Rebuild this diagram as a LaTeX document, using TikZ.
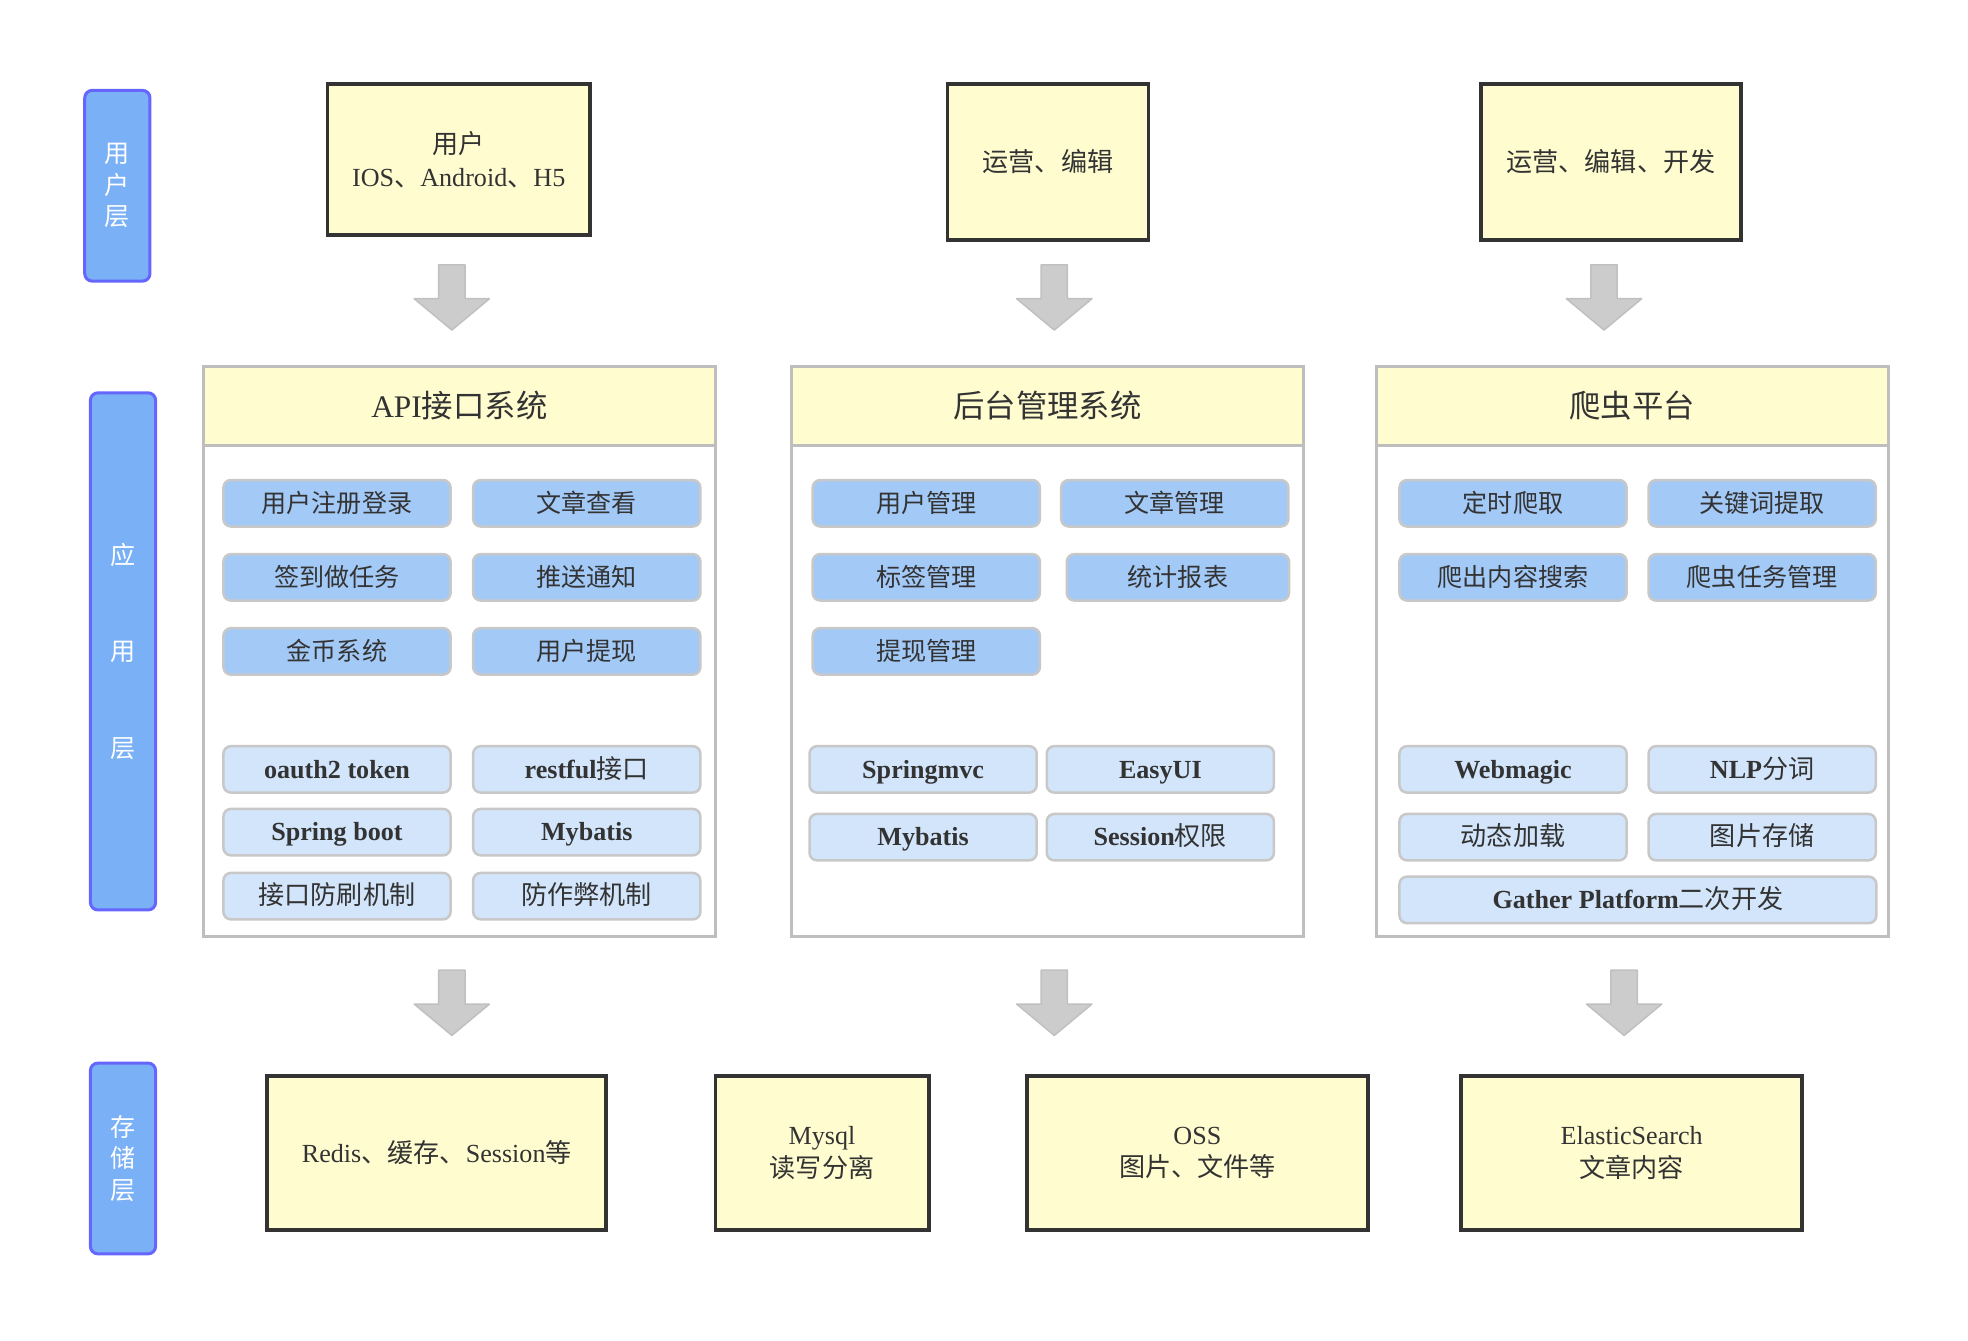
\documentclass[tikz,border=0pt]{standalone}
\usepackage{fontspec}
\setmainfont{Liberation Serif}
\newfontfamily\cjk{Noto Sans CJK SC}
\newcommand\zh[1]{{\cjk\mdseries #1}}
\usetikzlibrary{positioning}
\definecolor{boxfill}{RGB}{255,253,208}
\definecolor{boxborder}{RGB}{51,51,51}
\definecolor{panelborder}{RGB}{190,190,190}
\definecolor{funcdark}{RGB}{163,201,247}
\definecolor{funclight}{RGB}{210,229,251}
\definecolor{btnborder}{RGB}{200,200,200}
\definecolor{layerfill}{RGB}{122,176,245}
\definecolor{layerborder}{RGB}{102,102,255}
\definecolor{arrowgray}{RGB}{204,204,204}
\definecolor{arrowedge}{RGB}{192,192,192}
\definecolor{txt}{RGB}{51,51,51}
\tikzset{
  layer/.style={draw=layerborder, fill=layerfill, line width=1.2pt, rounded corners=3pt,
    text=white, align=center, inner sep=0pt, minimum width=26pt,
    font=\cjk\fontsize{10}{12.5}\selectfont},
  client/.style={draw=boxborder, fill=boxfill, line width=1.5pt, align=center,
    inner sep=0pt, text=txt, font=\fontsize{10.4}{13}\selectfont},
  panel/.style={draw=panelborder, fill=white, line width=1.2pt, inner sep=0pt,
    minimum width=204pt, minimum height=227pt},
  header/.style={draw=panelborder, fill=boxfill, line width=1.2pt, inner sep=0pt,
    minimum width=204pt, minimum height=31.5pt, text=txt, font=\fontsize{12.5}{15}\selectfont},
  func/.style={draw=btnborder, fill=funcdark, line width=1pt, rounded corners=3pt,
    inner sep=0pt, minimum width=90.5pt, minimum height=18.5pt, text=txt,
    text height=8.5pt, text depth=1.5pt, font=\cjk\fontsize{10}{12}\selectfont},
  tech/.style={func, fill=funclight, font=\bfseries\fontsize{10.4}{12}\selectfont},
  grayarrow/.pic={
    \draw[fill=arrowgray, draw=arrowedge, line width=0.6pt, line join=round]
      (-10.5,0) -- (10.5,0) -- (10.5,27) -- (30,27) -- (0,52) -- (-30,27) -- (-10.5,27) -- cycle;
  }
}
\begin{document}
\begin{tikzpicture}[x=0.5pt, y=-0.5pt]
    \useasboundingbox (0,0) rectangle (1568,1068);

    % layers
    \node[layer, minimum height=76pt] (L1) at (93.5,148) {用\\户\\层};
    \node[layer, minimum height=206pt, font=\cjk\fontsize{10}{38.5}\selectfont] (L2) at (98,519) {应\\用\\层};
    \node[layer, minimum height=76pt] (L3) at (98,923) {存\\储\\层};

    % clients
    \node[client, minimum width=104.5pt, minimum height=60pt] (U1) at (365.5,127) {\zh{用户}\\IOS\zh{、}Android\zh{、}H5};
    \node[client, minimum width=80pt, minimum height=62pt] (U2) at (835,129) {\zh{运营、编辑}};
    \node[client, minimum width=103.5pt, minimum height=62pt] (U3) at (1283.5,129) {\zh{运营、编辑、开发}};

    \pic at (360,211) {grayarrow};
    \pic at (840,211) {grayarrow};
    \pic at (1278,211) {grayarrow};

    % application panels
    \node[panel] (P1) at (366,519) {};
    \node[header, anchor=north] (H1) at (P1.north) {API\zh{接口系统}};
    \node[panel] (P2) at (834.5,519) {};
    \node[header, anchor=north] (H2) at (P2.north) {\zh{后台管理系统}};
    \node[panel] (P3) at (1300.5,519) {};
    \node[header, anchor=north] (H3) at (P3.north) {\zh{爬虫平台}};

    % API
    \node[func] (A11) at (268.5,401) {用户注册登录};
    \node[func] (A12) at (467.5,401) {文章查看};
    \node[func] (A21) at (268.5,460) {签到做任务};
    \node[func] (A22) at (467.5,460) {推送通知};
    \node[func] (A31) at (268.5,519) {金币系统};
    \node[func] (A32) at (467.5,519) {用户提现};
    \node[tech] (T11) at (268.5,613) {oauth2 token};
    \node[tech] (T12) at (467.5,613) {restful\zh{接口}};
    \node[tech] (T21) at (268.5,663) {Spring boot};
    \node[tech] (T22) at (467.5,663) {Mybatis};
    \node[tech] (T31) at (268.5,714) {\zh{接口防刷机制}};
    \node[tech] (T32) at (467.5,714) {\zh{防作弊机制}};

    % admin
    \node[func] (B11) at (738,401) {用户管理};
    \node[func] (B12) at (936,401) {文章管理};
    \node[func] (B21) at (738,460) {标签管理};
    \node[func, minimum width=88.5pt] (B22) at (938.5,460) {统计报表};
    \node[func] (B31) at (738,519) {提现管理};
    \node[tech] (S11) at (735.5,613) {Springmvc};
    \node[tech] (S12) at (924.5,613) {EasyUI};
    \node[tech] (S21) at (735.5,667) {Mybatis};
    \node[tech] (S22) at (924.5,667) {Session\zh{权限}};

    % crawler
    \node[func] (C11) at (1205.5,401) {定时爬取};
    \node[func] (C12) at (1404,401) {关键词提取};
    \node[func] (C21) at (1205.5,460) {爬出内容搜索};
    \node[func] (C22) at (1404,460) {爬虫任务管理};
    \node[tech] (W11) at (1205.5,613) {Webmagic};
    \node[tech] (W12) at (1404,613) {NLP\zh{分词}};
    \node[tech] (W21) at (1205.5,667) {\zh{动态加载}};
    \node[tech] (W22) at (1404,667) {\zh{图片存储}};
    \node[tech, minimum width=190pt] (W31) at (1305,717) {Gather Platform\zh{二次开发}};

    \pic at (360,773) {grayarrow};
    \pic at (840,773) {grayarrow};
    \pic at (1294,773) {grayarrow};

    % storage
    \node[client, minimum width=135pt, minimum height=61.5pt] (D1) at (348,918.5) {Redis\zh{、缓存、}Session\zh{等}};
    \node[client, minimum width=85pt, minimum height=61.5pt] (D2) at (655,918.5) {Mysql\\\zh{读写分离}};
    \node[client, minimum width=136pt, minimum height=61.5pt] (D3) at (954,918.5) {OSS\\\zh{图片、文件等}};
    \node[client, minimum width=136pt, minimum height=61.5pt] (D4) at (1300,918.5) {ElasticSearch\\\zh{文章内容}};
\end{tikzpicture}
\end{document}
